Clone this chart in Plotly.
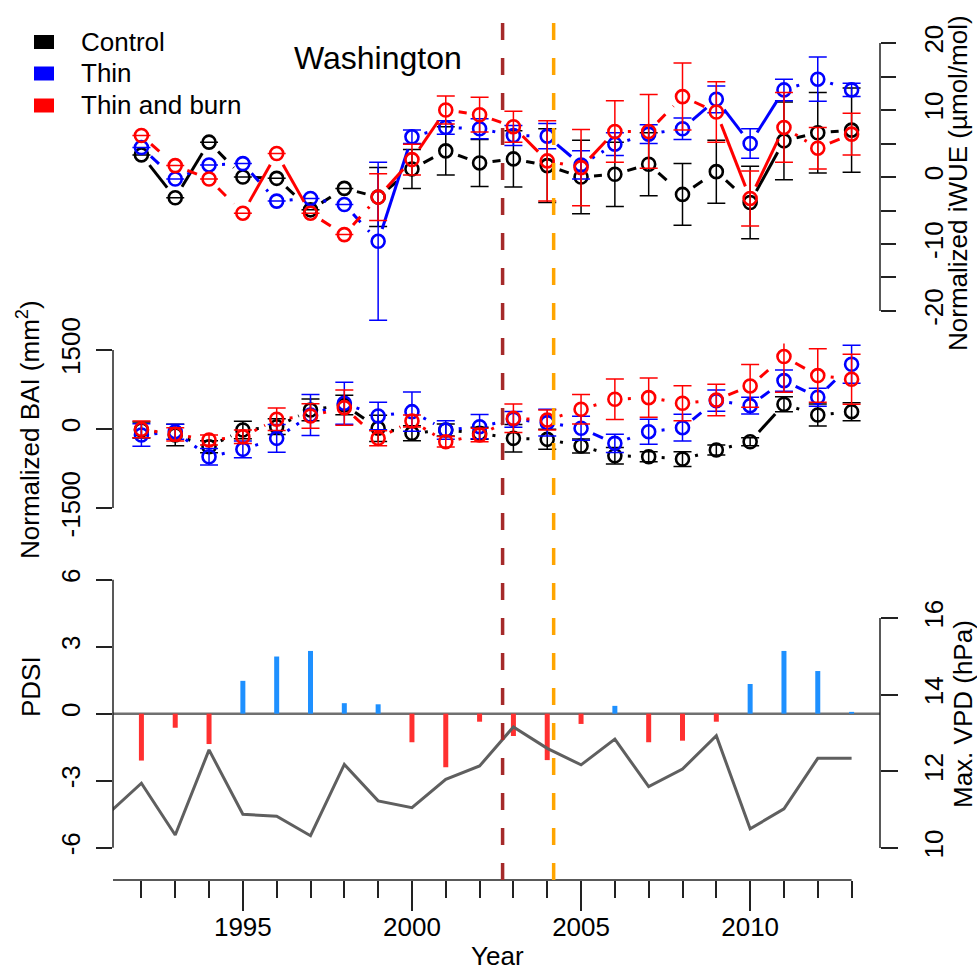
import plotly.graph_objects as go

# ---------------- data ----------------
years = list(range(1992, 2014))
vpd_years = list(range(1991, 2014))

# normalized iWUE (umol/mol)
iwue_control = [3.3, -3.1, 5.2, 0.0, -0.2, -4.9, -1.7, -3.0, 1.2, 3.9, 2.1,
                2.7, 1.7, 0.0, 0.4, 1.9, -2.6, 0.8, -3.8, 5.4, 6.6, 7.0]
iwue_thin = [4.4, -0.3, 1.8, 2.0, -3.6, -3.2, -4.1, -9.6, 6.0, 7.4, 7.2,
             6.2, 6.1, 1.8, 4.9, 6.4, 7.2, 11.6, 5.0, 13.0, 14.6, 13.0]
iwue_burn = [6.2, 1.7, -0.3, -5.4, 3.5, -5.4, -8.6, -3.0, 2.6, 10.0, 9.3,
             7.5, 2.4, 1.4, 6.8, 6.8, 12.0, 9.7, -3.2, 7.4, 4.3, 6.4]
N = None
iwue_control_se = [N, N, N, N, N, N, N, 4.4, 2.9, 3.6, 3.5,
                   4.2, 5.5, 5.5, 4.8, 4.7, 4.6, 4.7, 5.4, 5.8, 6.0, 6.3]
iwue_thin_se = [N, N, N, N, N, N, N, 11.8, 1.0, 1.0, 1.5,
                1.5, 1.9, 2.1, 1.7, 1.4, 1.6, 2.0, 2.2, 1.6, 3.3, 1.0]
iwue_burn_se = [N, N, N, N, N, N, N, 3.5, 2.3, 2.1, 2.6,
                2.3, 6.0, 5.7, 4.6, 5.5, 5.0, 4.5, 4.1, 5.2, 3.1, 3.1]

# normalized basal area increment (mm2)
bai_control = [-19, -114, -336, -19, 44, 361, 456, 13, -82, -19, -82,
               -177, -196, -323, -507, -526, -570, -399, -241, 469, 266, 329]
bai_thin = [-114, -51, -526, -386, -177, 266, 488, 247, 329, -19, 44,
            184, 120, 13, -272, -51, 25, 538, 443, 918, 602, 1229]
bai_burn = [-6, -101, -209, -146, 184, 247, 405, -177, 152, -241, -114,
            203, 171, 374, 564, 595, 488, 551, 817, 1374, 1013, 944]
bai_control_se = [150, 206, 114, 168, 150, 206, 184, 250, 143, 114, 114,
                  260, 190, 133, 158, 95, 139, 95, 76, 143, 209, 171]
bai_thin_se = [215, 142, 158, 158, 262, 390, 399, 260, 374, 174, 230,
               150, 253, 228, 174, 238, 253, 200, 158, 200, 171, 361]
bai_burn_se = [160, 127, 95, 127, 212, 231, 333, 143, 114, 100, 127,
               270, 190, 279, 386, 374, 333, 300, 405, 675, 507, 475]

# line type of each year-to-year segment: s solid, d dashed, o dotted
iwue_styles = {
    "control": "ssddddddddddddddddsdd",
    "thin":    "doodoodsoooosooosssoo",
    "burn":    "dddssddssddsosoddssod",
}
bai_styles = {
    "control": "oooooodooooooooooosoo",
    "thin":    "ooooooooooooodoododdd",
    "burn":    "oooooodoooooooooodddo",
}

# climate
pdsi = [-2.1, -0.63, -1.36, 1.47, 2.56, 2.81, 0.47, 0.42, -1.28, -2.4, -0.36,
        -1.0, -2.08, -0.46, 0.35, -1.28, -1.21, -0.36, 1.33, 2.81, 1.91, 0.08]
max_vpd = [10.88, 11.69, 10.34, 12.56, 10.88, 10.83, 10.32, 12.18, 11.23, 11.05,
           11.79, 12.14, 13.16, 12.60, 12.17, 12.84, 11.60, 12.06, 12.93,
           10.50, 11.02, 12.34, 12.34]

treatment_years = {"thin": 2002.68, "burn": 2004.19}

series_names = ["Control", "Thin", "Thin and burn"]
series_keys = ["control", "thin", "burn"]
series_colors = ["#000000", "#0000FF", "#FF0000"]

# ---------------- layout geometry ----------------
W, H = 977, 974
ML, MR, MT, MB = 113, 97, 0, 94
PW, PH = W - ML - MR, H - MT - MB
X_RANGE = [1991.16, 2013.84]

def fx(px):
    return (px - ML) / PW

def fy(py):
    return (MT + PH - py) / PH

DOM_TOP = [fy(321.7), fy(32.3)]
DOM_MID = [fy(514.4), fy(343.6)]
DOM_BOT = [0.0, fy(569.0)]
R_TOP = [-21.6, 21.6]
R_MID = [-1620, 1620]
R_BOT = [-7.45, 6.48]
R_VPD = [9.165, 17.28]

AX = "#222222"
FONT = "Liberation Sans, Arial, sans-serif"
DASH = {"s": "solid", "d": "11px,11px", "o": "3px,8px"}
GAP = 13  # px left free around each point on connecting lines

xs_per_px = (X_RANGE[1] - X_RANGE[0]) / PW


def segments(ys, styles, color, yaxis, yrange, dom):
    ys_per_px = (yrange[1] - yrange[0]) / ((dom[1] - dom[0]) * PH)
    out = []
    for code in "sdo":
        sx, sy = [], []
        for i, c in enumerate(styles):
            if c != code:
                continue
            x0, x1 = years[i], years[i + 1]
            y0, y1 = ys[i], ys[i + 1]
            dxp = (x1 - x0) / xs_per_px
            dyp = (y1 - y0) / ys_per_px
            L = (dxp ** 2 + dyp ** 2) ** 0.5
            if L <= 2 * GAP:
                continue
            t = GAP / L
            sx += [x0 + (x1 - x0) * t, x1 - (x1 - x0) * t, None]
            sy += [y0 + (y1 - y0) * t, y1 - (y1 - y0) * t, None]
        if sx:
            out.append(go.Scatter(
                x=sx, y=sy, mode="lines", yaxis=yaxis, xaxis="x",
                line=dict(color=color, width=3, dash=DASH[code]),
                hoverinfo="skip", showlegend=False))
    return out


def points(ys, se, color, yaxis, name):
    return go.Scatter(
        x=years, y=ys, mode="markers", yaxis=yaxis, xaxis="x", name=name,
        marker=dict(symbol="circle-open", size=13, color=color,
                    line=dict(width=2.6, color=color)),
        error_y=dict(type="data", array=se, symmetric=True, color=color,
                     thickness=1.5, width=9),
        showlegend=False)


fig = go.Figure()

iwue = {"control": (iwue_control, iwue_control_se),
        "thin": (iwue_thin, iwue_thin_se),
        "burn": (iwue_burn, iwue_burn_se)}
bai = {"control": (bai_control, bai_control_se),
       "thin": (bai_thin, bai_thin_se),
       "burn": (bai_burn, bai_burn_se)}

for key, name, col in zip(series_keys, series_names, series_colors):
    v, e = iwue[key]
    for tr in segments(v, iwue_styles[key], col, "y", R_TOP, DOM_TOP):
        fig.add_trace(tr)
    fig.add_trace(points(v, e, col, "y", name))
    v, e = bai[key]
    for tr in segments(v, bai_styles[key], col, "y2", R_MID, DOM_MID):
        fig.add_trace(tr)
    fig.add_trace(points(v, e, col, "y2", name))

# PDSI as vertical bars from zero, coloured by sign
for positive, col in [(True, "#1E90FF"), (False, "#FF3030")]:
    bx, by = [], []
    for yr, p in zip(years, pdsi):
        if (p >= 0) == positive:
            bx += [yr, yr, None]
            by += [0, p, None]
    fig.add_trace(go.Scatter(x=bx, y=by, mode="lines", xaxis="x", yaxis="y3",
                             line=dict(color=col, width=5),
                             hoverinfo="skip", showlegend=False))

fig.add_trace(go.Scatter(x=vpd_years, y=max_vpd, mode="lines", xaxis="x",
                         yaxis="y4", line=dict(color="#5F5F5F", width=3),
                         showlegend=False, name="Max. VPD"))

# ---------------- axes ----------------
tickfont = dict(family=FONT, size=26, color="#000000")
common_y = dict(showgrid=False, zeroline=False, showline=False, ticks="outside",
                tickcolor=AX, tickwidth=1.5, tickfont=tickfont, tickangle=-90,
                tickmode="array", fixedrange=True, automargin=False)

fig.update_layout(
    width=W, height=H,
    margin=dict(l=ML, r=MR, t=MT, b=MB, pad=0, autoexpand=False),
    paper_bgcolor="white", plot_bgcolor="white",
    font=dict(family=FONT, size=26, color="#000000"),
    showlegend=False,
    xaxis=dict(range=X_RANGE, domain=[0, 1], anchor="y3", showgrid=False,
               zeroline=False, showline=False, ticks="outside", ticklen=30,
               tickwidth=1.5, tickcolor=AX, tickmode="array", automargin=False,
               tickvals=[1995, 2000, 2005, 2010], ticklabelstandoff=-6,
               ticktext=["1995", "2000", "2005", "2010"], tickfont=tickfont,
               minor=dict(tickmode="array", tickvals=years, ticks="outside",
                          ticklen=17, tickwidth=1.5, tickcolor=AX)),
    yaxis=dict(common_y, domain=DOM_TOP, range=R_TOP, side="right", anchor="x",
               tickvals=[-20, -10, 0, 10, 20], ticklabelstandoff=16,
               ticktext=["-20", "-10", "0", "10", "20"], ticklen=15,
               minor=dict(tickmode="array", tickvals=[-15, -5, 5, 15],
                          ticks="outside", ticklen=15, tickwidth=1.5,
                          tickcolor=AX)),
    yaxis2=dict(common_y, domain=DOM_MID, range=R_MID, side="left", anchor="x",
                tickvals=[-1500, 0, 1500], ticktext=["-1500", "0", "1500"],
                ticklen=16, ticklabelstandoff=6),
    yaxis3=dict(common_y, domain=DOM_BOT, range=R_BOT, side="left", anchor="x",
                tickvals=[-6, -3, 0, 3, 6], ticktext=["-6", "-3", "0", "3", "6"],
                ticklen=16, ticklabelstandoff=6),
    yaxis4=dict(common_y, range=R_VPD, side="right", anchor="x",
                overlaying="y3", tickvals=[10, 12, 14, 16],
                ticktext=["10", "12", "14", "16"], ticklen=17,
                ticklabelstandoff=14),
)

axline = dict(color=AX, width=1.5)
shapes = [
    dict(type="line", xref="x", yref="paper", x0=X_RANGE[0], x1=2013,
         y0=0, y1=0, line=axline),
    dict(type="line", xref="paper", yref="y", x0=1, x1=1, y0=-20, y1=20,
         line=axline),
    dict(type="line", xref="paper", yref="y2", x0=0, x1=0, y0=-1500, y1=1500,
         line=axline),
    dict(type="line", xref="paper", yref="y3", x0=0, x1=0, y0=-6, y1=6,
         line=axline),
    dict(type="line", xref="paper", yref="y4", x0=1, x1=1, y0=10, y1=16,
         line=axline),
    # PDSI zero line
    dict(type="line", xref="paper", yref="y3", x0=0, x1=1, y0=0, y1=0,
         line=dict(color="#707070", width=2.5), layer="below"),
    # treatment dates
    dict(type="line", xref="x", yref="paper", x0=treatment_years["thin"],
         x1=treatment_years["thin"], y0=0, y1=fy(6),
         line=dict(color="#A52A2A", width=3.5, dash="17px,18px")),
    dict(type="line", xref="x", yref="paper", x0=treatment_years["burn"],
         x1=treatment_years["burn"], y0=0, y1=fy(6),
         line=dict(color="#FFA500", width=3.5, dash="17px,18px")),
]

# legend boxes
annotations = []
for i, (name, col) in enumerate(zip(series_names, series_colors)):
    cy = [42, 73.5, 105.5][i]
    shapes.append(dict(type="rect", xref="paper", yref="paper",
                       x0=fx(34), x1=fx(54), y0=fy(cy + 7), y1=fy(cy - 7),
                       fillcolor=col, line=dict(width=0)))
    annotations.append(dict(text=name, xref="paper", yref="paper",
                            x=fx(79), y=fy(cy), xanchor="left",
                            yanchor="middle", showarrow=False,
                            font=dict(family=FONT, size=26)))


def label(text, px, py, angle=0, size=26):
    annotations.append(dict(text=text, xref="paper", yref="paper",
                            x=fx(px), y=fy(py), xanchor="center",
                            yanchor="middle", showarrow=False,
                            textangle=angle,
                            font=dict(family=FONT, size=size)))


label("Washington", 378, 58, size=32)
label("Year", 497, 956)
label("Normalized BAI (mm<sup>2</sup>)", 28, 430, -90)
label("PDSI", 31, 687, -90)
label("Normalized iWUE (µmol/mol)", 958, 183, -90)
label("Max. VPD (hPa)", 963, 714, -90)

fig.update_layout(shapes=shapes, annotations=annotations)

fig.write_html("out.html")
